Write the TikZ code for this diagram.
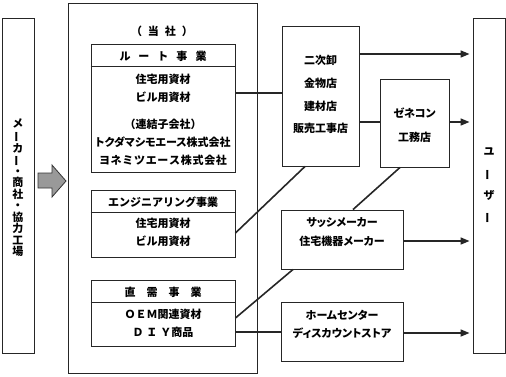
\documentclass[tikz,border=0pt]{standalone}
\usepackage{fontspec}
\usepackage{graphicx}
\setmainfont{Noto Sans CJK JP}
\newcommand\propkana{\addfontfeature{RawFeature={+palt}}}
\newcommand\vbar{\rotatebox[origin=c]{90}{ー}}
\newcommand\tsp{\hspace{0.7pt}}
\usetikzlibrary{arrows.meta}
\begin{document}
\begin{tikzpicture}[x=1pt,y=-1pt,
  box/.style={draw=black!85,line width=0.9pt,inner sep=0pt},
  lbl/.style={inner sep=0pt,font=\fontsize{11}{13}\selectfont\bfseries},
  conn/.style={draw=black!85,line width=1.6pt},
  arr/.style={conn,-{Triangle[length=9pt,width=7pt]},shorten >=3pt}]
\useasboundingbox (0,0) rectangle (506,376);
% outer boxes
\node[box,minimum width=32,minimum height=335] (maker) at (18,185.5) {};
\node[box,minimum width=189,minimum height=370] (main) at (162.5,188) {};
\node[box,minimum width=32,minimum height=335] (user) at (489,185.5) {};
% vertical texts
\node[lbl,align=center,font=\fontsize{11}{11.5}\selectfont\bfseries] (makert) at (18,188)
 {メ\\\vbar\\カ\\\vbar\\・\\商\\社\\・\\協\\力\\工\\場};
\node[lbl,align=center,font=\fontsize{11}{21.7}\selectfont\bfseries] (usert) at (489,186)
 {ユ\\\vbar\\ザ\\\vbar};
% big arrow
\draw[fill=black!40,draw=black!80,line width=0.8pt]
 (38,173) -- (52,173) -- (52,165) -- (66,181) -- (52,197) -- (52,188) -- (38,188) -- cycle;
% company title
\node[lbl] (tosha) at (162,31) {（\hspace{6pt}当\hspace{6pt}社\hspace{6pt}）};
% route business
\node[box,minimum width=144,minimum height=128] (route) at (163,108) {};
\draw[box] (route.west |- 0,66) -- (route.east |- 0,66);
\node[lbl] (routeh) at (163,56) {ル\hspace{8pt}ー\hspace{8pt}ト\hspace{8pt}事\hspace{8pt}業};
\node[lbl] (r1) at (163,79) {住宅用資材};
\node[lbl] (r2) at (163,97) {ビル用資材};
\node[lbl] (r3) at (163,124) {（連結子会社）};
\node[lbl] (r4) at (163,142) {\propkana トクダマシモエース株式会社};
\node[lbl] (r5) at (163,160) {ヨ\tsp ネ\tsp ミ\tsp ツ\tsp エ\tsp ー\tsp ス\tsp 株\tsp 式\tsp 会\tsp 社};
% engineering
\node[box,minimum width=144,minimum height=67] (eng) at (163,223.5) {};
\draw[box] (eng.west |- 0,212) -- (eng.east |- 0,212);
\node[lbl] (engh) at (163,202) {エンジニアリング事業};
\node[lbl] (e1) at (163,223) {住宅用資材};
\node[lbl] (e2) at (163,241) {ビル用資材};
% direct demand
\node[box,minimum width=144,minimum height=66] (choku) at (163,313) {};
\draw[box] (choku.west |- 0,302) -- (choku.east |- 0,302);
\node[lbl] (chokuh) at (163,292) {直\hspace{11pt}需\hspace{11pt}事\hspace{11pt}業};
\node[lbl] (c1) at (163,314) {ＯＥＭ関連資材};
\node[lbl] (c2) at (163,332) {Ｄ\hspace{3pt}Ｉ\hspace{3pt}Ｙ商品};
% right boxes
\node[box,minimum width=77,minimum height=140] (niji) at (320.5,96) {};
\node[lbl] (n1) at (320.5,60) {二次卸};
\node[lbl] (n2) at (320.5,83) {金物店};
\node[lbl] (n3) at (320.5,106) {建材店};
\node[lbl] (n4) at (320.5,128) {販売工事店};
\node[box,minimum width=69,minimum height=88] (zene) at (414.5,123) {};
\node[lbl] (z1) at (414.5,113) {\propkana ゼネコン};
\node[lbl] (z2) at (414.5,137) {工務店};
\node[box,minimum width=122,minimum height=59] (sash) at (342,239.5) {};
\node[lbl] (s1) at (342,223) {\propkana サッシメーカー};
\node[lbl] (s2) at (342,241) {\propkana 住宅機器メーカー};
\node[box,minimum width=122,minimum height=59] (home) at (342,331.5) {};
\node[lbl] (h1) at (342,315) {\propkana ホームセンター};
\node[lbl] (h2) at (342,333) {\propkana ディスカウントストア};
% connectors
\draw[conn] (route.east |- 0,93) -- (niji.west |- 0,93);
\draw[arr] (niji.east |- 0,54) -- (user.west |- 0,54);
\draw[conn] (niji.east |- 0,122) -- (zene.west |- 0,122);
\draw[arr] (zene.east |- 0,122) -- (user.west |- 0,122);
\draw[conn] (niji.south -| 305,0) -- (eng.east |- 0,233);
\draw[conn] (zene.south -| 400,0) -- (sash.north -| 353,0);
\draw[conn] (sash.south -| 293,0) -- (choku.east |- 0,318);
\draw[conn] (choku.east |- 0,332) -- (home.west |- 0,332);
\draw[arr] (sash.east |- 0,241) -- (user.west |- 0,241);
\draw[arr] (home.east |- 0,333) -- (user.west |- 0,333);
\end{tikzpicture}
\end{document}
